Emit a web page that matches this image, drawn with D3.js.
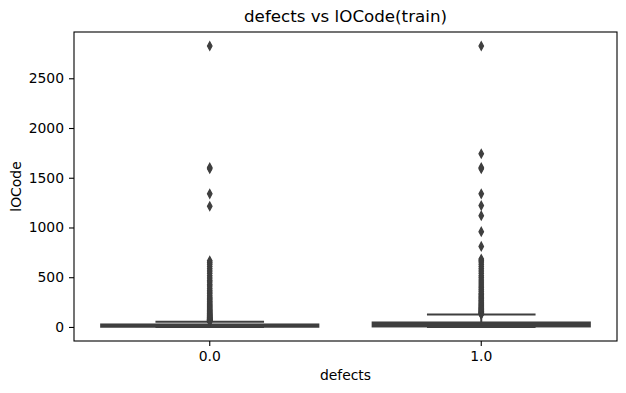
<!DOCTYPE html>
<html>
<head>
<meta charset="utf-8">
<script src="https://cdn.jsdelivr.net/npm/d3@7"></script>
<style>
  body { margin: 0; background: #fff; }
  text { font-family: 'DejaVu Sans', sans-serif; fill: #000; }
  .axis text { font-size: 13.9px; }
  .axis line { stroke: #000; stroke-width: 1.1; }
</style>
</head>
<body>
<div id="chart"></div>
<script>
// categories on x
let categories = ['0.0', '1.0']

// box stats: [whiskerLow, q1, median, q3, whiskerHigh]
let boxStats = [
  [0, 2, 12, 25, 53],
  [0, 5, 25, 45, 124]
]

// outliers (fliers) per category
let fliers0 = [55, 58, 60, 63, 65, 68, 70, 73, 75, 78, 80, 84, 88, 92, 96, 100,
  105, 110, 115, 120, 126, 132, 138, 145, 152, 160, 168, 176, 185, 195, 205,
  215, 226, 238, 250, 262, 275, 288, 300, 318, 336, 352, 370, 390, 412, 430,
  452, 470, 492, 515, 540, 562, 585, 608, 630, 648, 665,
  1213, 1338, 1590, 1602, 2824]
let fliers1 = [125, 130, 135, 140, 146, 152, 158, 165, 172, 180, 188, 196, 205,
  215, 225, 236, 248, 260, 272, 285, 298, 312, 326, 340, 358, 376, 394, 412,
  432, 452, 472, 494, 516, 540, 562, 585, 608, 630, 652, 668, 682,
  810, 958, 1119, 1220, 1338, 1590, 1602, 1741, 2824]
let fliers = [fliers0, fliers1]

let yTicks = [0, 500, 1000, 1500, 2000, 2500]

let margin = { top: 32, left: 74, right: 9, bottom: 52 }
let width = 626 - margin.left - margin.right
let height = 393 - margin.top - margin.bottom

let grey = '#3f3f3f'

let svg = d3
  .select('#chart')
  .append('svg')
  .attr('width', width + margin.left + margin.right)
  .attr('height', height + margin.top + margin.bottom)
  .append('g')
  .attr('transform', `translate(${margin.left}, ${margin.top})`)

let xPositionScale = d3.scaleBand().domain(categories).range([0, width])
let yMax = d3.max(fliers.flat())
let yPad = yMax * 0.05
let yPositionScale = d3
  .scaleLinear()
  .domain([-yPad, yMax + yPad])
  .range([height, 0])

let boxWidth = xPositionScale.bandwidth() * 0.8
let capWidth = boxWidth / 2

categories.forEach((cat, i) => {
  let s = boxStats[i]
  let cx = xPositionScale(cat) + xPositionScale.bandwidth() / 2
  let g = svg.append('g').attr('class', 'box')

  // whiskers
  g.append('line')
    .attr('x1', cx).attr('x2', cx)
    .attr('y1', yPositionScale(s[1])).attr('y2', yPositionScale(s[0]))
    .attr('stroke', grey).attr('stroke-width', 2)
  g.append('line')
    .attr('x1', cx).attr('x2', cx)
    .attr('y1', yPositionScale(s[3])).attr('y2', yPositionScale(s[4]))
    .attr('stroke', grey).attr('stroke-width', 2)

  // caps
  ;[s[0], s[4]].forEach(v => {
    g.append('line')
      .attr('x1', cx - capWidth / 2).attr('x2', cx + capWidth / 2)
      .attr('y1', yPositionScale(v)).attr('y2', yPositionScale(v))
      .attr('stroke', grey).attr('stroke-width', 2)
  })

  // box
  g.append('rect')
    .attr('x', cx - boxWidth / 2)
    .attr('width', boxWidth)
    .attr('y', yPositionScale(s[3]))
    .attr('height', yPositionScale(s[1]) - yPositionScale(s[3]))
    .attr('fill', grey)
    .attr('stroke', grey)
    .attr('stroke-width', 2)

  // median
  g.append('line')
    .attr('x1', cx - boxWidth / 2).attr('x2', cx + boxWidth / 2)
    .attr('y1', yPositionScale(s[2])).attr('y2', yPositionScale(s[2]))
    .attr('stroke', grey).attr('stroke-width', 2)

  // fliers as thin diamonds
  g.selectAll('.flier')
    .data(fliers[i])
    .enter()
    .append('path')
    .attr('class', 'flier')
    .attr('d', 'M0,-4.3L2.3,0L0,4.3L-2.3,0Z')
    .attr('transform', d => `translate(${cx}, ${yPositionScale(d)})`)
    .attr('fill', grey)
    .attr('stroke', grey)
    .attr('stroke-width', 1.2)
})

let xAxis = d3.axisBottom(xPositionScale).tickSizeInner(5).tickSizeOuter(0).tickPadding(5)
svg
  .append('g')
  .attr('class', 'axis x-axis')
  .attr('transform', 'translate(0,' + height + ')')
  .call(xAxis)
  .call(g => g.select('.domain').remove())

let yAxis = d3
  .axisLeft(yPositionScale)
  .tickValues(yTicks)
  .tickFormat(d3.format('d'))
  .tickSizeInner(5)
  .tickSizeOuter(0)
  .tickPadding(5)
svg
  .append('g')
  .attr('class', 'axis y-axis')
  .call(yAxis)
  .call(g => g.select('.domain').remove())

svg.selectAll('.axis text').attr('font-family', null).attr('font-size', null)

// frame
svg
  .append('rect')
  .attr('width', width)
  .attr('height', height)
  .attr('fill', 'none')
  .attr('stroke', '#000')
  .attr('stroke-width', 1.1)

svg
  .append('text')
  .attr('text-anchor', 'middle')
  .attr('font-size', '16.7px')
  .attr('x', width / 2)
  .attr('y', -10)
  .text('defects vs lOCode(train)')

svg
  .append('text')
  .attr('text-anchor', 'middle')
  .attr('font-size', '13.9px')
  .attr('x', width / 2)
  .attr('y', height + 39)
  .text('defects')

svg
  .append('text')
  .attr('text-anchor', 'middle')
  .attr('font-size', '13.9px')
  .attr('transform', `translate(${-53}, ${height / 2}) rotate(-90)`)
  .text('lOCode')
</script>
</body>
</html>
